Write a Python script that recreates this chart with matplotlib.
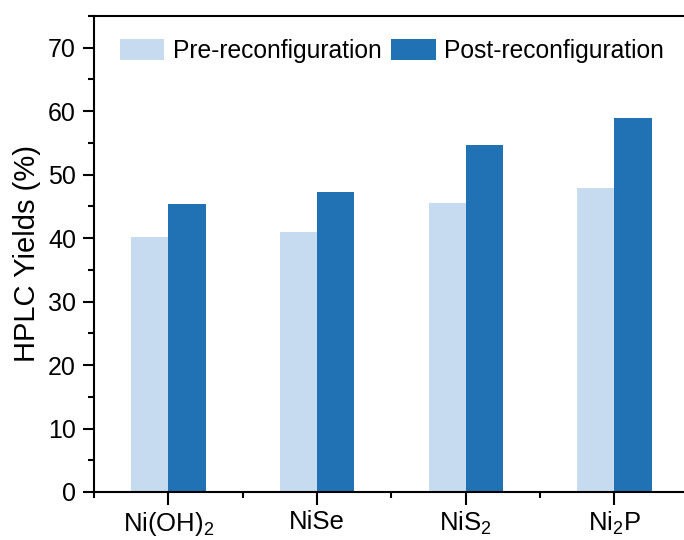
import numpy as np
import matplotlib
matplotlib.use("Agg")
import matplotlib.pyplot as plt
from matplotlib.ticker import MultipleLocator

plt.rcParams["font.family"] = "Liberation Sans"
plt.rcParams["mathtext.fontset"] = "custom"
plt.rcParams["mathtext.rm"] = "Liberation Sans"
plt.rcParams["mathtext.it"] = "Liberation Sans:italic"

# HPLC yields before / after catalyst reconfiguration
catalysts = ["Ni(OH)$_2$", "NiSe", "NiS$_2$", "Ni$_2$P"]
pre_yield = [40.2, 40.9, 45.5, 47.9]
post_yield = [45.4, 47.2, 54.7, 59.0]

fig = plt.figure(figsize=(6.84, 5.40), dpi=100)
ax = fig.add_axes([0.1374, 0.0889, 0.8696, 0.8815])

x = np.arange(len(catalysts))
w = 0.25
ax.bar(x - w / 2, pre_yield, w, color="#C6DBEF", label="Pre-reconfiguration")
ax.bar(x + w / 2, post_yield, w, color="#2171B5", label="Post-reconfiguration")

ax.set_xlim(-0.5, 3.5)
ax.set_ylim(0, 75)
ax.set_xticks(x)
ax.set_xticklabels(catalysts, fontsize=18.5)
ax.xaxis.set_minor_locator(MultipleLocator(1.0, offset=0.5))
ax.set_yticks(np.arange(0, 71, 10))
ax.yaxis.set_minor_locator(MultipleLocator(5))
ax.tick_params(axis="y", labelsize=18)

ax.tick_params(which="major", direction="out", length=8, width=1.5, pad=5)
ax.tick_params(which="minor", direction="out", length=4, width=1.5)
ax.tick_params(axis="x", which="major", length=9, pad=4)
ax.tick_params(axis="x", which="both", top=False)
ax.tick_params(axis="y", which="both", right=False)

for side in ["left", "bottom", "top"]:
    ax.spines[side].set_linewidth(1.5)
ax.spines["right"].set_visible(False)

ax.set_ylabel("HPLC Yields (%)", fontsize=21, labelpad=5)

ax.legend(loc="upper left", bbox_to_anchor=(0.1754, 0.928),
          bbox_transform=fig.transFigure, ncol=2, frameon=False,
          fontsize=17.7, borderpad=0, borderaxespad=0,
          handlelength=1.8, handleheight=0.95, handletextpad=0.35,
          columnspacing=0.4)

plt.savefig("out.png", dpi=100)
plt.close()
